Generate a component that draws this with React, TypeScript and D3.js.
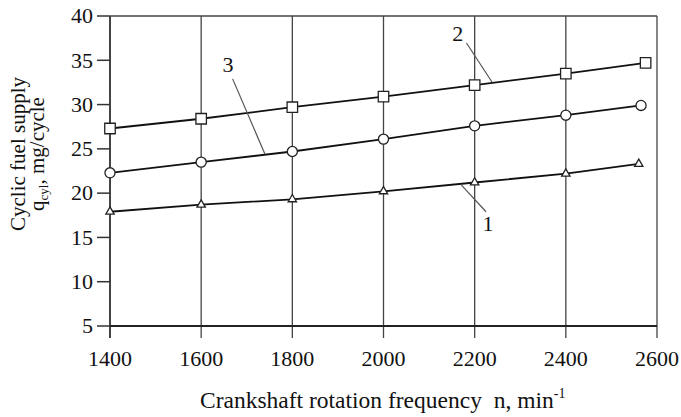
import { useEffect, useRef } from "react";
import * as d3 from "d3";

// axis ticks
const xTicks = [1400, 1600, 1800, 2000, 2200, 2400, 2600];
const yTicks = [5, 10, 15, 20, 25, 30, 35, 40];

// curve 1 (triangles)
const nTriangle = [1400, 1600, 1800, 2000, 2200, 2400, 2560];
const qTriangle = [17.9, 18.7, 19.3, 20.2, 21.2, 22.2, 23.3];

// curve 2 (squares)
const nSquare = [1400, 1600, 1800, 2000, 2200, 2400, 2575];
const qSquare = [27.3, 28.4, 29.7, 30.9, 32.2, 33.5, 34.7];

// curve 3 (circles)
const nCircle = [1400, 1600, 1800, 2000, 2200, 2400, 2565];
const qCircle = [22.3, 23.5, 24.7, 26.1, 27.6, 28.8, 29.9];

const curveLabels = ["1", "2", "3"];

const FONT = "'Liberation Serif', 'Times New Roman', serif";

function App() {
    const svgRef = useRef<SVGSVGElement>(null);

    useEffect(() => {
        if (!svgRef.current) return;

        const width = 681;
        const height = 417;
        const margin = { top: 16, right: 24, bottom: 91, left: 110 };

        const svg = d3.select(svgRef.current);
        svg.selectAll("*").remove();
        svg.attr("width", width).attr("height", height);

        const g = svg.append("g")
            .attr("transform", `translate(${margin.left},${margin.top})`);

        const innerWidth = width - margin.left - margin.right;
        const innerHeight = height - margin.top - margin.bottom;

        const x = d3.scaleLinear().domain([1400, 2600]).range([0, innerWidth]);
        const y = d3.scaleLinear().domain([5, 40]).range([innerHeight, 0]);

        const gridColor = "#444";

        // vertical grid lines, running past the bottom axis as ticks
        g.append("g")
            .selectAll("line")
            .data(xTicks)
            .join("line")
            .attr("x1", d => x(d))
            .attr("x2", d => x(d))
            .attr("y1", 0)
            .attr("y2", innerHeight + 12)
            .attr("stroke", gridColor)
            .attr("stroke-width", d => (d === 1400 ? 2 : 1.3));

        // top border
        g.append("line")
            .attr("x1", 0).attr("x2", innerWidth)
            .attr("y1", 0).attr("y2", 0)
            .attr("stroke", gridColor).attr("stroke-width", 1.3);

        // bottom axis line
        g.append("line")
            .attr("x1", 0).attr("x2", innerWidth)
            .attr("y1", innerHeight).attr("y2", innerHeight)
            .attr("stroke", "#222").attr("stroke-width", 2);

        // y ticks, pointing outwards
        g.append("g")
            .selectAll("line")
            .data(yTicks)
            .join("line")
            .attr("x1", -13)
            .attr("x2", 0)
            .attr("y1", d => y(d))
            .attr("y2", d => y(d))
            .attr("stroke", "#333")
            .attr("stroke-width", 1.5);

        // tick labels
        g.append("g")
            .selectAll("text")
            .data(yTicks)
            .join("text")
            .attr("x", -17)
            .attr("y", d => y(d))
            .attr("dy", "0.33em")
            .attr("text-anchor", "end")
            .style("font-family", FONT)
            .style("font-size", "22px")
            .style("fill", "#111")
            .text(d => d);

        g.append("g")
            .selectAll("text")
            .data(xTicks)
            .join("text")
            .attr("x", d => x(d))
            .attr("y", innerHeight + 40)
            .attr("text-anchor", "middle")
            .style("font-family", FONT)
            .style("font-size", "22px")
            .style("fill", "#111")
            .text(d => d);

        // curves
        const line = d3.line<[number, number]>()
            .x(d => x(d[0]))
            .y(d => y(d[1]));

        const series = [
            { n: nTriangle, q: qTriangle, marker: "triangle" },
            { n: nSquare, q: qSquare, marker: "square" },
            { n: nCircle, q: qCircle, marker: "circle" },
        ];

        series.forEach(s => {
            const pts: [number, number][] = s.n.map((v, i) => [v, s.q[i]]);

            g.append("path")
                .datum(pts)
                .attr("fill", "none")
                .attr("stroke", "#111")
                .attr("stroke-width", 1.8)
                .attr("d", line);

            const sym = s.marker === "square" ? d3.symbolSquare
                : s.marker === "circle" ? d3.symbolCircle
                : d3.symbolTriangle;
            const size = s.marker === "square" ? 110 : s.marker === "circle" ? 80 : 30;

            g.append("g")
                .selectAll("path")
                .data(pts)
                .join("path")
                .attr("transform", d => `translate(${x(d[0])},${y(d[1])})`)
                .attr("d", d3.symbol().type(sym).size(size)())
                .attr("fill", "white")
                .attr("stroke", "#222")
                .attr("stroke-width", 1.3);
        });

        // curve numbers with leader lines (data units)
        const notes = [
            { text: curveLabels[0], tx: 2229, ty: 16.6, from: [2171, 20.9], to: [2225, 17.9] },
            { text: curveLabels[1], tx: 2163, ty: 38.1, from: [2238, 32.55], to: [2182, 36.95] },
            { text: curveLabels[2], tx: 1659, ty: 34.5, from: [1740, 24.4], to: [1669, 32.9] },
        ];

        notes.forEach(a => {
            g.append("line")
                .attr("x1", x(a.from[0])).attr("y1", y(a.from[1]))
                .attr("x2", x(a.to[0])).attr("y2", y(a.to[1]))
                .attr("stroke", "#555")
                .attr("stroke-width", 1.2);

            g.append("text")
                .attr("x", x(a.tx))
                .attr("y", y(a.ty))
                .attr("dy", "0.35em")
                .attr("text-anchor", "middle")
                .style("font-family", FONT)
                .style("font-size", "22px")
                .style("fill", "#111")
                .text(a.text);
        });

        // x axis title
        const xTitle = g.append("text")
            .attr("x", 90)
            .attr("y", innerHeight + 82)
            .style("font-family", FONT)
            .style("font-size", "23.5px")
            .style("fill", "#111");
        xTitle.append("tspan").text("Crankshaft rotation frequency\u00a0\u00a0n, min");
        xTitle.append("tspan").attr("dy", -10).style("font-size", "14px").text("-1");

        // y axis title (two lines)
        const yTitle = g.append("g")
            .attr("transform", `translate(${-85},${innerHeight / 2 - 17}) rotate(-90)`);

        yTitle.append("text")
            .attr("x", 0)
            .attr("y", 0)
            .attr("text-anchor", "middle")
            .style("font-family", FONT)
            .style("font-size", "21px")
            .style("fill", "#111")
            .text("Cyclic fuel supply");

        const line2 = yTitle.append("text")
            .attr("x", 0)
            .attr("y", 19)
            .attr("text-anchor", "middle")
            .style("font-family", FONT)
            .style("font-size", "21px")
            .style("fill", "#111");
        line2.append("tspan").text("q");
        line2.append("tspan").attr("dy", 4).style("font-size", "13px").text("cyl");
        line2.append("tspan").attr("dy", -4).text(", mg/cycle");
    }, []);

    return (
        <svg
            ref={svgRef}
            style={{ position: "absolute", left: 0, top: 0, background: "white" }}
        ></svg>
    );
}

export default App;
